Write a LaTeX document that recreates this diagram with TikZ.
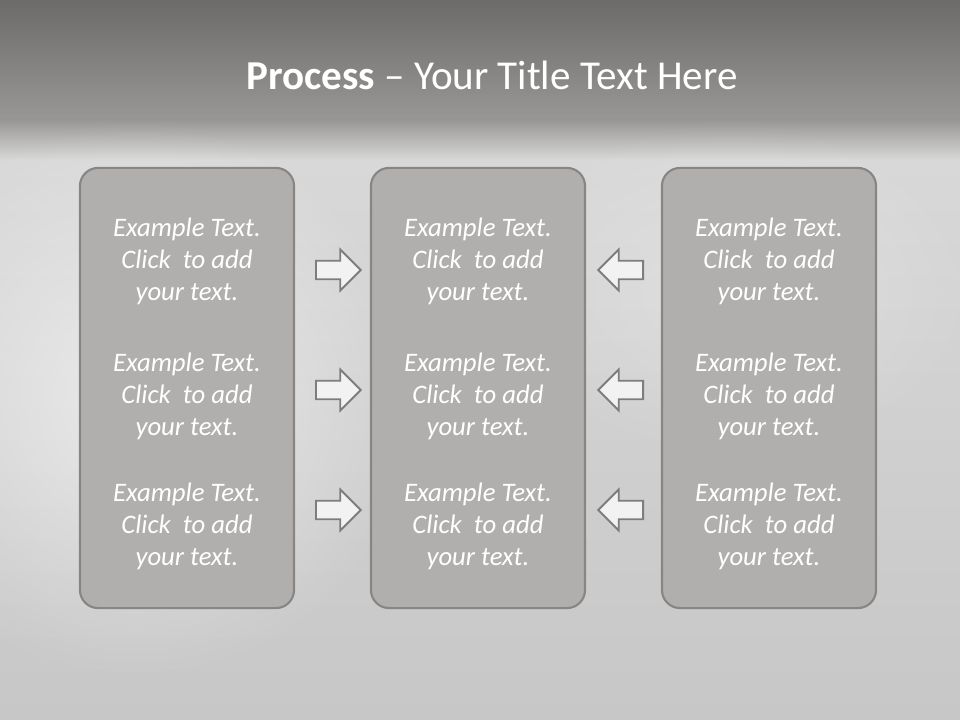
\documentclass[tikz,border=0pt]{standalone}
\usepackage{fontspec}
\setmainfont{Carlito}
\usetikzlibrary{shapes.arrows,fadings}

\definecolor{bandtop}{HTML}{6C6B69}
\definecolor{bandbot}{HTML}{989795}
\definecolor{bglight}{HTML}{D8D8D8}
\definecolor{bgbot}{HTML}{C7C7C7}
\definecolor{boxfill}{HTML}{B0AFAD}
\definecolor{boxline}{HTML}{878685}
\definecolor{arrowfill}{HTML}{F2F2F2}
\definecolor{arrowline}{HTML}{7D7D7D}

\tikzfading[name=softglow,inner color=transparent!0,outer color=transparent!100]

\newcommand{\sampletext}{Example Text.\\Click~ to add\\your text.}

\tikzset{
  panel/.style={draw=boxline,fill=boxfill,line width=1.5pt,
    rounded corners=0.45cm,minimum width=5.35cm,minimum height=11cm},
  celltext/.style={text=white,align=center,inner sep=0pt,
    font=\fontsize{19pt}{22.8pt}\selectfont\itshape},
  blockarrow/.style={single arrow,draw=arrowline,fill=arrowfill,line width=1.3pt,
    text height=0pt,text depth=0pt,inner xsep=0pt,inner ysep=0.21cm,
    minimum height=1.12cm,minimum width=1cm,single arrow head extend=0.28cm},
  titletext/.style={text=white,inner sep=0pt,
    font=\fontsize{29.2pt}{34pt}\selectfont}
}

\begin{document}
\begin{tikzpicture}[x=0.025cm,y=-0.025cm]
  \useasboundingbox (0,0) rectangle (960,720);

  % --- Background ---
  \shade[top color=bandtop,bottom color=bandbot] (0,0) rectangle (960,120);
  \shade[top color=bandbot,bottom color=bglight] (0,120) rectangle (960,160);
  \shade[top color=bglight,bottom color=bgbot] (0,160) rectangle (960,720);
  \fill[white,opacity=0.55,path fading=softglow] (-150,120) rectangle (420,680);
  \fill[white,opacity=0.25,path fading=softglow] (480,120) rectangle (980,460);

  % --- Title ---
  \node[titletext] (title) at (492,75) {\textbf{Process} -- Your Title Text Here};

  % --- Columns and texts ---
  \foreach \cx/\cn in {187/A,478/B,769/C} {
    \node[panel] (col\cn) at (\cx,388) {};
    \foreach \ry/\rn in {261/1,396/2,526/3}
      \node[celltext] (txt\cn\rn) at (\cx,\ry) {\sampletext};
  }

  % --- Arrows ---
  \foreach \ry/\rn in {270/1,390/2,510/3} {
    \node[blockarrow,anchor=tail] (rarr\rn) at (315,\ry) {};
    \node[blockarrow,shape border rotate=180,anchor=tail] (larr\rn) at (644,\ry) {};
  }
\end{tikzpicture}
\end{document}
